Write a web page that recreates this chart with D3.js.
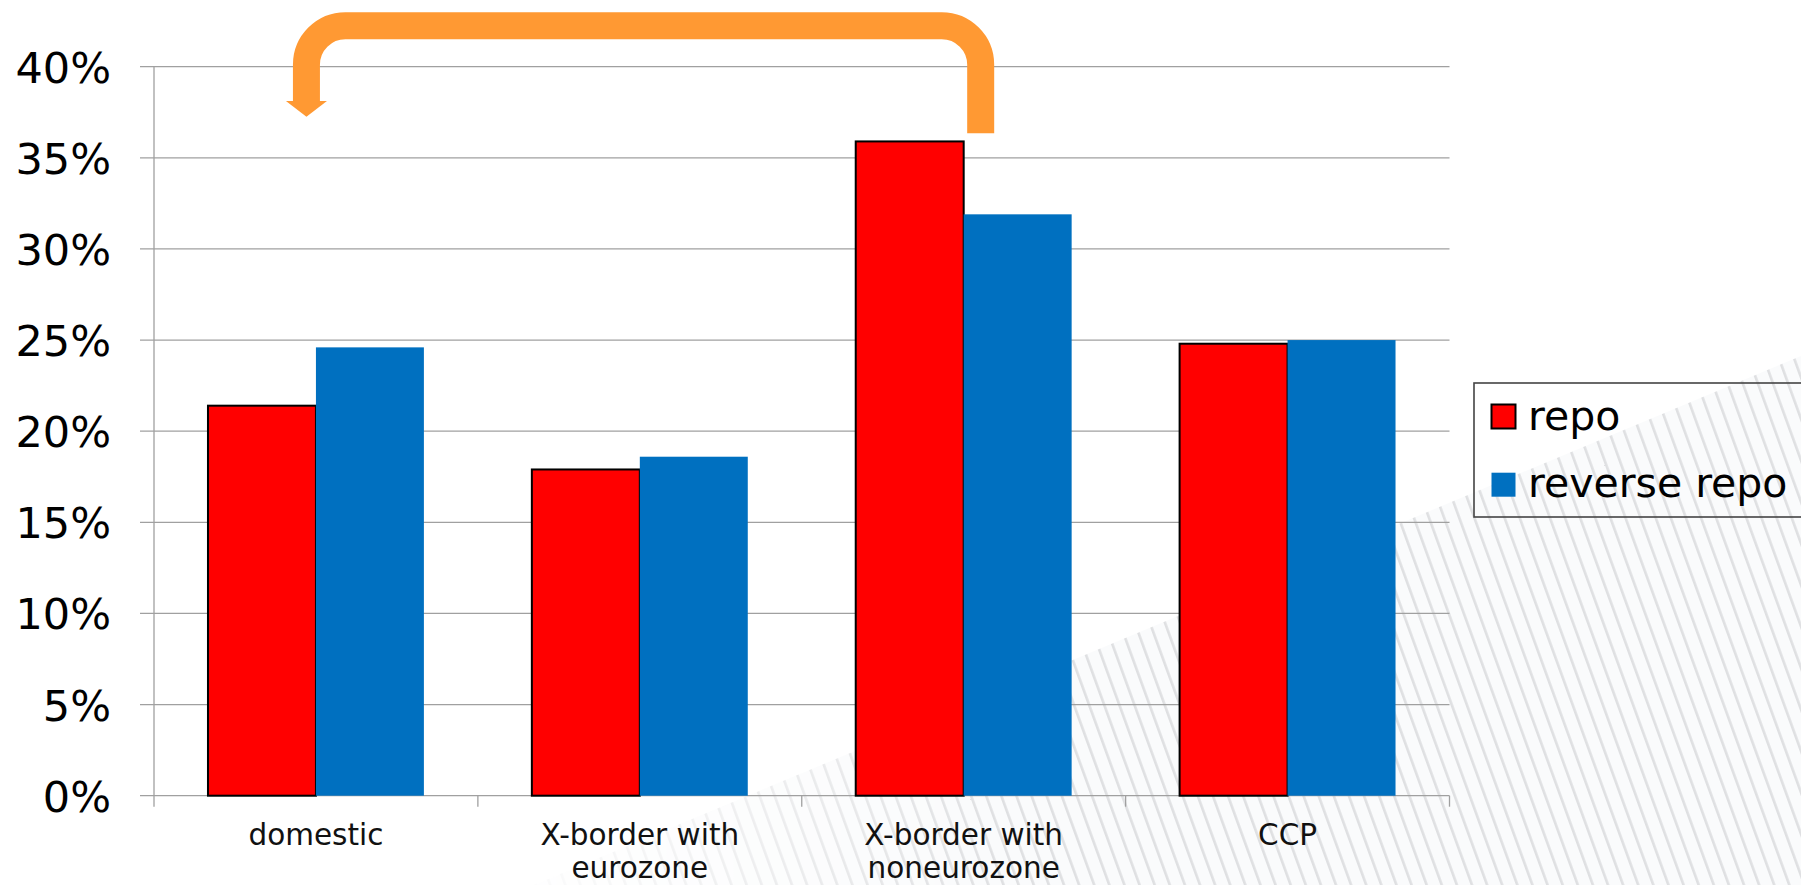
<!DOCTYPE html>
<html>
<head>
<meta charset="utf-8">
<script src="https://cdn.jsdelivr.net/npm/d3@7"></script>
<style>
  html, body { margin: 0; padding: 0; background: #ffffff; }
  svg { display: block; font-family: "DejaVu Sans", Verdana, sans-serif; }
</style>
</head>
<body>
<svg id="chart" width="1801" height="885"></svg>
<script>
const categories = ["domestic", "X-border with eurozone", "X-border with noneurozone", "CCP"];
const categoryLines = [["domestic"], ["X-border with", "eurozone"], ["X-border with", "noneurozone"], ["CCP"]];
const seriesNames = ["repo", "reverse repo"];
const repo = [0.214, 0.179, 0.359, 0.248];
const reverseRepo = [0.246, 0.186, 0.319, 0.250];
const yTicks = [0, 0.05, 0.10, 0.15, 0.20, 0.25, 0.30, 0.35, 0.40];
const colors = ["#ff0000", "#0070c0"];

const svg = d3.select("#chart");
const W = 1801, H = 885;
const plot = { left: 154, right: 1449.5, top: 66.7, bottom: 795.7 };

// background hatch decoration
const defs = svg.append("defs");
const pat = defs.append("pattern")
  .attr("id", "hatch").attr("patternUnits", "userSpaceOnUse")
  .attr("width", 14.2).attr("height", 14.2)
  .attr("patternTransform", "rotate(-20)");
pat.append("rect").attr("width", 14.2).attr("height", 14.2).attr("fill", "#fafbfc");
pat.append("rect").attr("x", 0).attr("y", 0).attr("width", 2.6).attr("height", 14.2).attr("fill", "#dfe0e2");
const grad2 = defs.append("linearGradient").attr("id", "fadeX")
  .attr("gradientUnits", "userSpaceOnUse")
  .attr("x1", 520).attr("y1", 0).attr("x2", 1000).attr("y2", 0);
grad2.append("stop").attr("offset", 0).attr("stop-color", "#fff").attr("stop-opacity", 0.1);
grad2.append("stop").attr("offset", 1).attr("stop-color", "#fff").attr("stop-opacity", 1);
const mask = defs.append("mask").attr("id", "hmask").attr("maskUnits", "userSpaceOnUse")
  .attr("x", 0).attr("y", 0).attr("width", W).attr("height", H);
mask.append("rect").attr("width", W).attr("height", H).attr("fill", "url(#fadeX)");
svg.append("path")
  .attr("d", `M534,${H} L${W},356 L${W},${H} Z`)
  .attr("fill", "url(#hatch)")
  .attr("mask", "url(#hmask)");

const x0 = d3.scaleBand().domain(categories).range([plot.left, plot.right]).padding(0);
const bw = x0.bandwidth();
const x1 = d3.scaleBand().domain(seriesNames).range([bw / 6, bw * 5 / 6]).padding(0);
const y = d3.scaleLinear().domain([0, 0.40]).range([plot.bottom, plot.top]);

// gridlines
svg.append("g").selectAll("line").data(yTicks).join("line")
  .attr("x1", plot.left - 14).attr("x2", plot.right)
  .attr("y1", d => y(d)).attr("y2", d => y(d))
  .attr("stroke", "#a0a0a0").attr("stroke-width", 1.3);

// y axis line
svg.append("line")
  .attr("x1", plot.left).attr("x2", plot.left)
  .attr("y1", y(0.40)).attr("y2", y(0))
  .attr("stroke", "#a0a0a0").attr("stroke-width", 1.3);

// y tick labels via axis
const yAxis = d3.axisLeft(y).tickValues(yTicks).tickFormat(d3.format(".0%")).tickSize(0).tickPadding(0);
const gy = svg.append("g").attr("transform", `translate(111,0)`).call(yAxis);
gy.select(".domain").remove();
gy.selectAll("text").attr("font-size", 43).attr("fill", "#000")
  .attr("font-family", "DejaVu Sans, Verdana, sans-serif").attr("dy", "0.36em");

// x axis ticks at category boundaries
const bounds = categories.map(c => x0(c)).concat([plot.right]);
svg.append("g").selectAll("line").data(bounds).join("line")
  .attr("x1", d => d).attr("x2", d => d)
  .attr("y1", y(0)).attr("y2", y(0) + 11)
  .attr("stroke", "#a0a0a0").attr("stroke-width", 1.3);

// bars
const data = categories.map((c, i) => ({ cat: c, vals: [repo[i], reverseRepo[i]] }));
const groups = svg.append("g").selectAll("g").data(data).join("g")
  .attr("transform", d => `translate(${x0(d.cat)},0)`);
groups.selectAll("rect").data(d => d.vals.map((v, j) => ({ s: seriesNames[j], v, j })))
  .join("rect")
  .attr("x", d => x1(d.s)).attr("width", x1.bandwidth())
  .attr("y", d => y(d.v)).attr("height", d => y(0) - y(d.v))
  .attr("fill", d => colors[d.j])
  .attr("stroke", d => d.j === 0 ? "#000" : "none")
  .attr("stroke-width", 2);

// x labels
const xl = svg.append("g");
categories.forEach((c, i) => {
  const t = xl.append("text")
    .attr("x", x0(c) + bw / 2).attr("y", 845)
    .attr("text-anchor", "middle").attr("font-size", 29.5).attr("fill", "#111");
  categoryLines[i].forEach((ln, k) => {
    t.append("tspan").attr("x", x0(c) + bw / 2).attr("y", 845 + k * 33).text(ln);
  });
});

// orange arrow annotation
const xr = x0(categories[2]) + bw / 2 + 17;
const xlft = x0(categories[0]) + bw / 2 - 9.5;
const yt = y(0.40) - 41;
const r = 39;
const yEndR = y(0.40) + 66.6;
const yHead = y(0.40) + 34.3;
svg.append("path")
  .attr("d", `M${xr},${yEndR} V${yt + r} A${r},${r} 0 0 0 ${xr - r},${yt} H${xlft + r} A${r},${r} 0 0 0 ${xlft},${yt + r} V${yHead}`)
  .attr("fill", "none").attr("stroke", "#ff9933").attr("stroke-width", 27);
svg.append("path")
  .attr("d", `M${xlft - 20.5},${yHead} L${xlft + 20.5},${yHead} L${xlft},${yHead + 15.7} Z`)
  .attr("fill", "#ff9933");

// legend
const lg = svg.append("g");
lg.append("rect").attr("x", 1474).attr("y", 383).attr("width", 400).attr("height", 134)
  .attr("fill", "none").attr("stroke", "#444").attr("stroke-width", 1.6);
seriesNames.forEach((s, i) => {
  const yy = i === 0 ? 404.5 : 472.7;
  lg.append("rect").attr("x", 1491.5).attr("y", yy)
    .attr("width", 24).attr("height", 24)
    .attr("fill", colors[i]).attr("stroke", i === 0 ? "#000" : "none").attr("stroke-width", 2);
  lg.append("text").attr("x", 1528).attr("y", i === 0 ? 430 : 496.5)
    .attr("font-size", 41).attr("fill", "#000").text(s);
});
</script>
</body>
</html>
